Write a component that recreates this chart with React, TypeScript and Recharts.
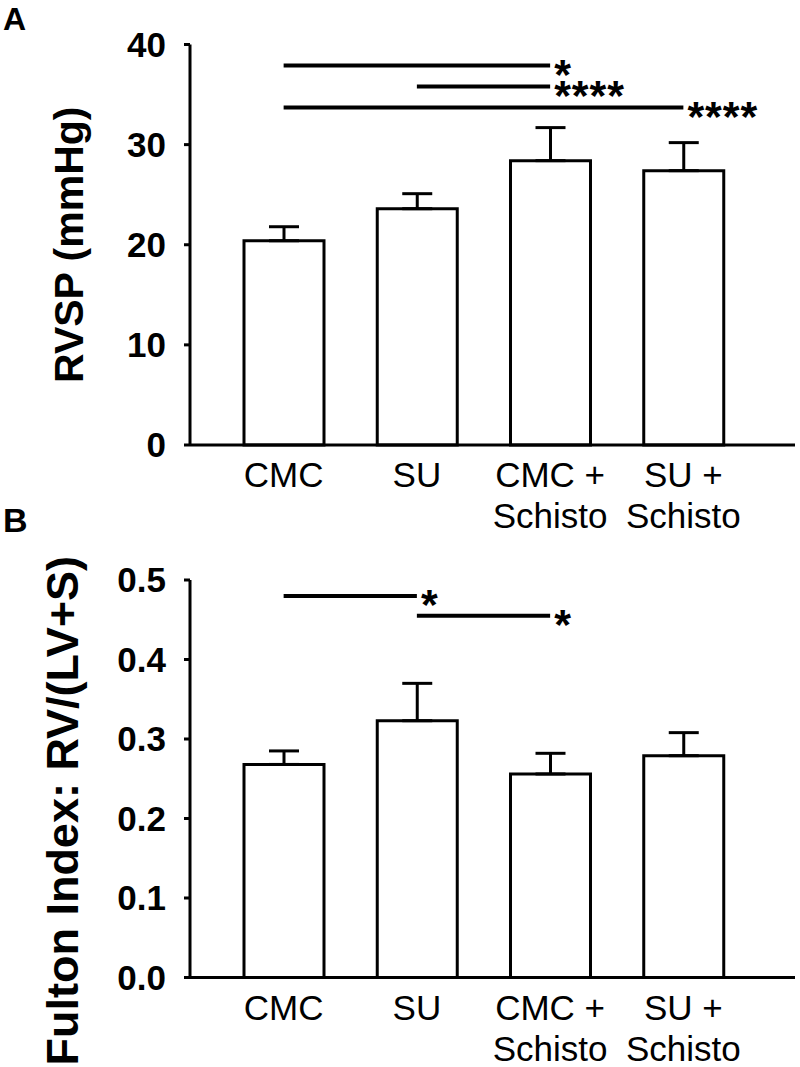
import React from 'react';
import { BarChart, Bar, XAxis, YAxis, ErrorBar, ReferenceLine } from 'recharts';

const FONT = "'Liberation Sans', Arial, Helvetica, sans-serif";

const categories = ['CMC', 'SU', 'CMC +\nSchisto', 'SU +\nSchisto'];

const rvspMean = [20.4, 23.6, 28.4, 27.4];
const rvspSem = [1.4, 1.5, 3.3, 2.8];
const rvspTicks = [0, 10, 20, 30, 40];

const fultonMean = [0.268, 0.323, 0.256, 0.279];
const fultonSem = [0.017, 0.047, 0.026, 0.029];
const fultonTicks = [0, 0.1, 0.2, 0.3, 0.4, 0.5];

const rvspSig = [
  { from: 'CMC', to: 'CMC +\nSchisto', y: 37.9, mark: '*' },
  { from: 'SU', to: 'CMC +\nSchisto', y: 35.8, mark: '****' },
  { from: 'CMC', to: 'SU +\nSchisto', y: 33.7, mark: '****' },
];

const fultonSig = [
  { from: 'CMC', to: 'SU', y: 0.48, mark: '*' },
  { from: 'SU', to: 'CMC +\nSchisto', y: 0.455, mark: '*' },
];

const rvspData = categories.map((c, i) => ({ name: c, value: rvspMean[i], err: [0, rvspSem[i]] }));
const fultonData = categories.map((c, i) => ({ name: c, value: fultonMean[i], err: [0, fultonSem[i]] }));

function CategoryTick(props: any) {
  const { x, y, payload } = props;
  const lines = String(payload.value).split('\n');
  return (
    <g>
      <text x={x} y={y} textAnchor="middle" fontFamily={FONT} fontSize={35} fill="#000">
        {lines.map((l: string, i: number) => (
          <tspan key={i} x={x} y={y + 42 + i * 41}>
            {l}
          </tspan>
        ))}
      </text>
    </g>
  );
}

const starLabel = (text: string) => (props: any) => {
  const vb = props.viewBox || {};
  const x = (vb.x ?? 0) + (vb.width ?? 0) + 4;
  const y = (vb.y ?? 0) + 23;
  return (
    <text x={x} y={y} fontFamily={FONT} fontSize={43} fontWeight="bold" fill="#000" letterSpacing={1}>
      {text}
    </text>
  );
};

const yLabel = (text: string, bx: number, dyc: number, size: number) => (props: any) => {
  const vb = props.viewBox || {};
  const cy = (vb.y ?? 0) + (vb.height ?? 0) / 2 + dyc;
  return (
    <text
      x={bx}
      y={cy}
      transform={`rotate(-90, ${bx}, ${cy})`}
      textAnchor="middle"
      fontFamily={FONT}
      fontSize={size}
      fontWeight="bold"
      fill="#000"
    >
      {text}
    </text>
  );
};

const tickStyle = { fontSize: 35, fontWeight: 'bold', fill: '#000', fontFamily: FONT };

export default function App() {
  return (
    <div style={{ position: 'absolute', left: 0, top: 0, width: 800, height: 1067, background: '#fff' }}>
      <div style={{ position: 'absolute', left: 0, top: 0 }}>
        <BarChart width={800} height={540} data={rvspData} margin={{ top: 44.5, right: 5, left: 0, bottom: 0 }}>
          <XAxis
            dataKey="name"
            type="category"
            interval={0}
            height={95}
            padding={{ left: 27, right: 45 }}
            tickLine={false}
            tickSize={0}
            tickMargin={0}
            axisLine={{ stroke: '#000', strokeWidth: 3 }}
            tick={<CategoryTick />}
          />
          <YAxis
            width={190}
            domain={[0, 40]}
            ticks={rvspTicks}
            interval={0}
            tickSize={6}
            tickMargin={18}
            axisLine={{ stroke: '#000', strokeWidth: 3 }}
            tickLine={{ stroke: '#000', strokeWidth: 3 }}
            tick={tickStyle}
            label={yLabel('RVSP (mmHg)', 83, 0, 41)}
          />
          <Bar dataKey="value" fill="#fff" stroke="#000" strokeWidth={3} barSize={80} isAnimationActive={false}>
            <ErrorBar dataKey="err" width={15} stroke="#000" strokeWidth={3} isAnimationActive={false} />
          </Bar>
          {rvspSig.map((s, i) => (
            <ReferenceLine
              key={i}
              segment={[
                { x: s.from, y: s.y },
                { x: s.to, y: s.y },
              ]}
              stroke="#000"
              strokeWidth={4}
              label={starLabel(s.mark)}
            />
          ))}
        </BarChart>
      </div>
      <div style={{ position: 'absolute', left: 0, top: 495 }}>
        <BarChart width={800} height={572} data={fultonData} margin={{ top: 85, right: 5, left: 0, bottom: 0 }}>
          <XAxis
            dataKey="name"
            type="category"
            interval={0}
            height={89.5}
            padding={{ left: 27, right: 45 }}
            tickLine={false}
            tickSize={0}
            tickMargin={0}
            axisLine={{ stroke: '#000', strokeWidth: 3 }}
            tick={<CategoryTick />}
          />
          <YAxis
            width={190}
            domain={[0, 0.5]}
            ticks={fultonTicks}
            interval={0}
            tickSize={6}
            tickMargin={18}
            tickFormatter={(v: number) => v.toFixed(1)}
            axisLine={{ stroke: '#000', strokeWidth: 3 }}
            tickLine={{ stroke: '#000', strokeWidth: 3 }}
            tick={tickStyle}
            label={yLabel('Fulton Index: RV/(LV+S)', 78, 32, 45)}
          />
          <Bar dataKey="value" fill="#fff" stroke="#000" strokeWidth={3} barSize={80} isAnimationActive={false}>
            <ErrorBar dataKey="err" width={15} stroke="#000" strokeWidth={3} isAnimationActive={false} />
          </Bar>
          {fultonSig.map((s, i) => (
            <ReferenceLine
              key={i}
              segment={[
                { x: s.from, y: s.y },
                { x: s.to, y: s.y },
              ]}
              stroke="#000"
              strokeWidth={4}
              label={starLabel(s.mark)}
            />
          ))}
        </BarChart>
      </div>
      <svg width={800} height={1067} style={{ position: 'absolute', left: 0, top: 0, pointerEvents: 'none' }}>
        <text x={3} y={30} fontFamily={FONT} fontSize={32} fontWeight="bold" fill="#000">A</text>
        <text x={3} y={532} fontFamily={FONT} fontSize={34} fontWeight="bold" fill="#000">B</text>
      </svg>
    </div>
  );
}
